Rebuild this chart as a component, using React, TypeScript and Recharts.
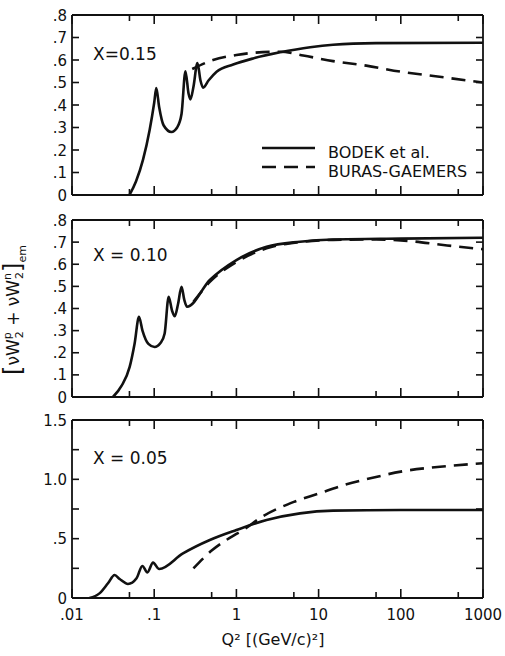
import React from 'react';
import { LineChart, Line, XAxis, YAxis, Legend } from 'recharts';

// ---------- axis ticks ----------
const xTickValues = [0.01, 0.05, 0.1, 0.5, 1, 5, 10, 50, 100, 500, 1000];
const xTickLabels = ['.01', '', '.1', '', '1', '', '10', '', '100', '', '1000'];

const yTicksLow = [0, 0.1, 0.2, 0.3, 0.4, 0.5, 0.6, 0.7, 0.8];
const yLabelsLow = ['0', '.1', '.2', '.3', '.4', '.5', '.6', '.7', '.8'];
const yTicksHigh = [0, 0.25, 0.5, 0.75, 1, 1.25, 1.5];
const yLabelsHigh = ['0', '', '.5', '', '1.0', '', '1.5'];

const seriesNames = ['BODEK et al.', 'BURAS-GAEMERS'];
const panelLabels = ['X=0.15', 'X = 0.10', 'X = 0.05'];

// ---------- X = 0.15 ----------
const q2Bodek15 = [0.05, 0.06, 0.073, 0.088, 0.1, 0.106, 0.115, 0.13, 0.162, 0.19, 0.215, 0.24, 0.262, 0.276, 0.3, 0.336, 0.365, 0.394, 0.46, 0.574, 0.914, 1.6, 3.4, 7.9, 15, 50, 1000];
const bodek15 = [0, 0.06, 0.156, 0.289, 0.41, 0.475, 0.39, 0.31, 0.28, 0.3, 0.36, 0.55, 0.45, 0.425, 0.48, 0.587, 0.51, 0.477, 0.51, 0.548, 0.58, 0.607, 0.634, 0.657, 0.668, 0.675, 0.677];
const q2Buras15 = [0.29, 0.52, 1.0, 1.6, 3.4, 6.5, 15, 38, 100, 250, 1000];
const buras15 = [0.56, 0.6, 0.622, 0.632, 0.637, 0.62, 0.595, 0.575, 0.548, 0.529, 0.5];

// ---------- X = 0.10 ----------
const q2Bodek10 = [0.0315, 0.04, 0.0503, 0.0578, 0.0653, 0.072, 0.085, 0.101, 0.12, 0.134, 0.15, 0.165, 0.178, 0.195, 0.215, 0.232, 0.251, 0.475, 1.0, 2.33, 5.94, 15, 100, 1000];
const bodek10 = [0, 0.05, 0.136, 0.242, 0.362, 0.3, 0.24, 0.226, 0.245, 0.287, 0.453, 0.39, 0.365, 0.42, 0.498, 0.44, 0.408, 0.529, 0.619, 0.679, 0.702, 0.712, 0.716, 0.72];
const q2Buras10 = [0.3, 0.475, 1.0, 2.33, 5.94, 15, 50, 100, 366, 1000];
const buras10 = [0.43, 0.52, 0.61, 0.672, 0.7, 0.71, 0.712, 0.708, 0.685, 0.668];

// ---------- X = 0.05 ----------
const q2Bodek05 = [0.0163, 0.0216, 0.0274, 0.033, 0.038, 0.048, 0.061, 0.0718, 0.0826, 0.0968, 0.115, 0.224, 0.475, 1.0, 2.33, 5.94, 15, 100, 1000];
const bodek05 = [0, 0.039, 0.124, 0.194, 0.16, 0.118, 0.166, 0.27, 0.216, 0.298, 0.244, 0.376, 0.489, 0.573, 0.657, 0.713, 0.736, 0.742, 0.742];
const q2Buras05 = [0.3, 0.5, 1.0, 1.21, 2, 5, 10, 20, 50, 100, 300, 1000];
const buras05 = [0.25, 0.4, 0.54, 0.573, 0.68, 0.81, 0.88, 0.95, 1.02, 1.065, 1.106, 1.135];

const toRows = (qs: number[], vs: number[]) => qs.map((q, i) => ({ q, v: vs[i] }));

const INK = '#111';
const FONT = '"DejaVu Sans", "Liberation Sans", sans-serif';
const AXIS_LINE = { stroke: INK, strokeWidth: 1.8 };

const isDecade = (v: number) => Math.abs(Math.log10(v) - Math.round(Math.log10(v))) < 1e-6;

const BottomTick = (props: any) => {
  const { x, y, payload, showLabels } = props;
  const len = isDecade(payload.value) ? 9 : 6;
  const idx = xTickValues.indexOf(payload.value);
  const label = idx >= 0 ? xTickLabels[idx] : '';
  return (
    <g>
      <line x1={x} x2={x} y1={y} y2={y - len} stroke={INK} strokeWidth={1.6} />
      {showLabels && label ? (
        <text x={x} y={y + 22} textAnchor="middle" fontSize={15} fontFamily={FONT} fill={INK}>
          {label}
        </text>
      ) : null}
    </g>
  );
};

const TopTick = (props: any) => {
  const { x, y, payload } = props;
  const len = isDecade(payload.value) ? 9 : 6;
  return <line x1={x} x2={x} y1={y} y2={y + len} stroke={INK} strokeWidth={1.6} />;
};

const LeftTick = (props: any) => {
  const { x, y, payload, values, labels } = props;
  const idx = values.findIndex((v: number) => Math.abs(v - payload.value) < 1e-9);
  const label = idx >= 0 ? labels[idx] : '';
  return (
    <g>
      <line x1={x} x2={x + 7} y1={y} y2={y} stroke={INK} strokeWidth={1.6} />
      {label ? (
        <text x={x - 5} y={y + 5.5} textAnchor="end" fontSize={15} fontFamily={FONT} fill={INK}>
          {label}
        </text>
      ) : null}
    </g>
  );
};

const RightTick = (props: any) => {
  const { x, y } = props;
  return <line x1={x - 7} x2={x} y1={y} y2={y} stroke={INK} strokeWidth={1.6} />;
};

const LegendContent = (props: any) => {
  const payload = props.payload || [];
  return (
    <svg width={235} height={45} style={{ display: 'block' }}>
      {payload.map((entry: any, i: number) => {
        const dash = entry?.payload?.strokeDasharray;
        const ly = 10 + i * 19;
        return (
          <g key={i}>
            <line x1={7} x2={60} y1={ly} y2={ly} stroke={INK} strokeWidth={2.4} strokeDasharray={dash} />
            <text x={73} y={ly + 10} fontSize={16} fontFamily={FONT} fill={INK}>
              {entry.value}
            </text>
          </g>
        );
      })}
    </svg>
  );
};

type PanelProps = {
  top: number;
  height: number;
  axisTop: number;
  axisBottom: number;
  bodek: { q: number; v: number }[];
  buras: { q: number; v: number }[];
  yTicks: number[];
  yLabels: string[];
  yMax: number;
  showXLabels?: boolean;
  showLegend?: boolean;
};

const Panel = ({ top, height, axisTop, axisBottom, bodek, buras, yTicks, yLabels, yMax, showXLabels, showLegend }: PanelProps) => (
  <div style={{ position: 'absolute', left: 0, top, width: 505, height }}>
    <LineChart width={505} height={height} margin={{ top: 0, right: 0, bottom: 0, left: 0 }}>
      <XAxis
        xAxisId="b"
        orientation="bottom"
        type="number"
        dataKey="q"
        scale="log"
        domain={[0.01, 1000]}
        allowDataOverflow
        ticks={xTickValues}
        interval={0}
        height={axisBottom}
        tickSize={0}
        tickMargin={0}
        tickLine={false}
        axisLine={AXIS_LINE}
        tick={<BottomTick showLabels={!!showXLabels} />}
      />
      <XAxis
        xAxisId="t"
        orientation="top"
        type="number"
        dataKey="q"
        scale="log"
        domain={[0.01, 1000]}
        allowDataOverflow
        ticks={xTickValues}
        interval={0}
        height={axisTop}
        tickSize={0}
        tickMargin={0}
        tickLine={false}
        axisLine={AXIS_LINE}
        tick={<TopTick />}
      />
      <YAxis
        yAxisId="l"
        orientation="left"
        type="number"
        domain={[0, yMax]}
        allowDataOverflow
        ticks={yTicks}
        interval={0}
        width={72}
        tickSize={0}
        tickMargin={0}
        tickLine={false}
        axisLine={AXIS_LINE}
        tick={<LeftTick values={yTicks} labels={yLabels} />}
      />
      <YAxis
        yAxisId="r"
        orientation="right"
        type="number"
        domain={[0, yMax]}
        allowDataOverflow
        ticks={yTicks}
        interval={0}
        width={22}
        tickSize={0}
        tickMargin={0}
        tickLine={false}
        axisLine={AXIS_LINE}
        tick={<RightTick />}
      />
      <Line
        xAxisId="b"
        yAxisId="l"
        data={bodek}
        dataKey="v"
        name={seriesNames[0]}
        type="monotone"
        stroke={INK}
        strokeWidth={2.6}
        dot={false}
        activeDot={false}
        isAnimationActive={false}
      />
      <Line
        xAxisId="b"
        yAxisId="l"
        data={buras}
        dataKey="v"
        name={seriesNames[1]}
        type="monotone"
        stroke={INK}
        strokeWidth={2.6}
        strokeDasharray="14 8"
        dot={false}
        activeDot={false}
        isAnimationActive={false}
      />
      {showLegend ? (
        <Legend
          layout="vertical"
          align="center"
          verticalAlign="middle"
          wrapperStyle={{ left: 255, top: 138, width: 235, height: 45 }}
          content={<LegendContent />}
        />
      ) : null}
    </LineChart>
  </div>
);

export default function App() {
  return (
    <div style={{ position: 'absolute', left: 0, top: 0, width: 505, height: 656, background: '#fff', overflow: 'hidden' }}>
      <Panel
        top={0}
        height={205}
        axisTop={15}
        axisBottom={10}
        bodek={toRows(q2Bodek15, bodek15)}
        buras={toRows(q2Buras15, buras15)}
        yTicks={yTicksLow}
        yLabels={yLabelsLow}
        yMax={0.8}
        showLegend
      />
      <Panel
        top={205}
        height={200}
        axisTop={15}
        axisBottom={8}
        bodek={toRows(q2Bodek10, bodek10)}
        buras={toRows(q2Buras10, buras10)}
        yTicks={yTicksLow}
        yLabels={yLabelsLow}
        yMax={0.8}
      />
      <Panel
        top={405}
        height={251}
        axisTop={15}
        axisBottom={58}
        bodek={toRows(q2Bodek05, bodek05)}
        buras={toRows(q2Buras05, buras05)}
        yTicks={yTicksHigh}
        yLabels={yLabelsHigh}
        yMax={1.5}
        showXLabels
      />
      <svg
        width={505}
        height={656}
        style={{ position: 'absolute', left: 0, top: 0, pointerEvents: 'none' }}
      >
        <text x={93} y={60} fontSize={17} fontFamily={FONT} fill={INK}>{panelLabels[0]}</text>
        <text x={93} y={261} fontSize={17} fontFamily={FONT} fill={INK}>{panelLabels[1]}</text>
        <text x={93} y={464} fontSize={17} fontFamily={FONT} fill={INK}>{panelLabels[2]}</text>
        <text x={273} y={645} textAnchor="middle" fontSize={16} fontFamily={FONT} fill={INK}>
          Q² [(GeV/c)²]
        </text>
        <text transform="translate(19,310) rotate(-90)" textAnchor="middle" fontFamily={FONT} fill={INK} fontSize={17}>
          <tspan fontSize={24} dy={2}>[</tspan>
          <tspan fontSize={17} dy={-2}>νW</tspan>
          <tspan fontSize={11} dy={-8}>p</tspan>
          <tspan fontSize={11} dx={-6} dy={12}>2</tspan>
          <tspan fontSize={17} dy={-4}> + νW</tspan>
          <tspan fontSize={11} dy={-8}>n</tspan>
          <tspan fontSize={11} dx={-6} dy={12}>2</tspan>
          <tspan fontSize={24} dy={-2}>]</tspan>
          <tspan fontSize={11} dy={5}>em</tspan>
        </text>
      </svg>
    </div>
  );
}
